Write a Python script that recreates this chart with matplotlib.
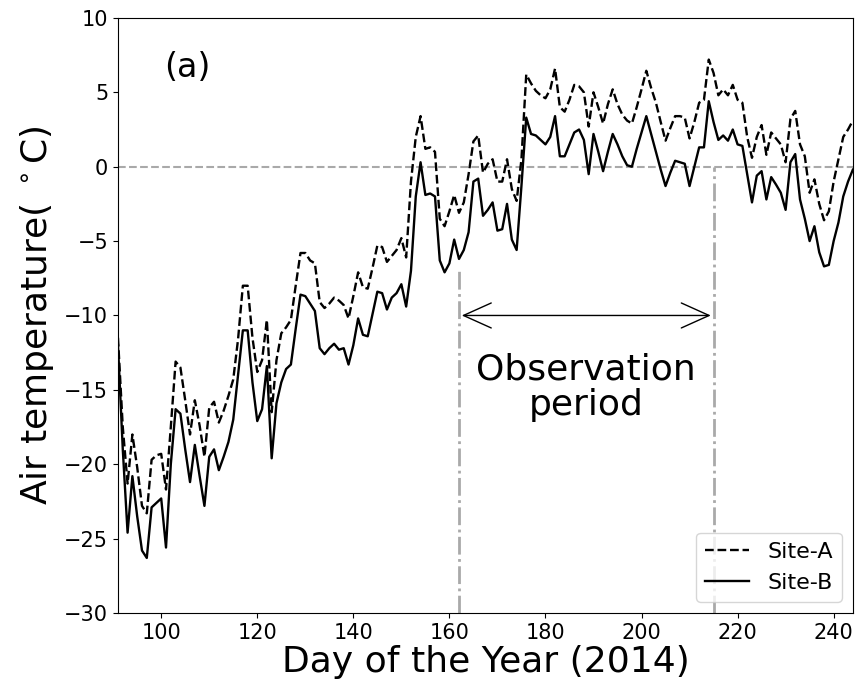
import matplotlib
matplotlib.use('Agg')
import matplotlib.pyplot as plt


# Day of year for every daily value (2014).
days = list(range(91, 245))

# Daily mean air temperature at Site-A (deg C), days 91..244.
site_a = [
    -11.5, -17.5, -21.3, -18.0, -20.2, -22.8, -23.3, -19.7, -19.4, -19.3,
    -21.7, -17.5, -13.1, -13.5, -15.7, -18.0, -15.7, -17.4, -19.5, -16.2,
    -15.8, -17.2, -16.4, -15.4, -14.3, -11.6, -8.0, -8.0, -11.5, -13.8,
    -13.0, -10.3, -16.5, -13.0, -11.2, -10.8, -10.3, -8.0, -5.8, -5.8,
    -6.3, -6.5, -9.1, -9.5, -9.2, -8.8, -9.0, -9.3, -10.2, -8.7,
    -7.1, -8.1, -8.2, -6.8, -5.3, -5.4, -6.4, -6.0, -5.6, -4.8,
    -6.1, -1.0, 2.0, 3.4, 1.2, 1.3, 1.0, -3.5, -4.0, -3.0,
    -1.9, -3.1, -2.4, -0.5, 1.7, 2.1, -0.4, 0.2, 0.5, -1.0,
    -1.0, 0.5, -1.5, -2.3, 0.5, 6.2, 5.6, 5.1, 4.8, 4.6,
    5.2, 6.6, 4.0, 3.7, 4.5, 5.5, 5.4, 5.0, 2.7, 5.0,
    4.0, 2.9, 4.2, 5.2, 4.2, 3.5, 3.1, 2.9, 4.0, 5.2,
    6.45, 5.3, 4.3, 3.0, 1.75, 2.6, 3.4, 3.4, 3.3, 1.9,
    3.0, 4.3, 4.5, 7.2, 6.3, 4.8, 5.2, 4.8, 5.5, 4.5,
    4.3, 2.0, 0.6, 2.0, 2.8, 0.8, 2.3, 1.9, 1.5, 0.3,
    3.2, 3.75, 1.5, 0.7, -1.75, -0.85, -2.5, -3.6, -3.0, -1.0,
    0.5, 2.0, 2.5, 3.1,
]

# Daily mean air temperature at Site-B (deg C), days 91..244.
site_b = [
    -12.0, -19.0, -24.6, -20.8, -23.5, -25.8, -26.3, -22.9, -22.6, -22.3,
    -25.6, -20.0, -16.3, -16.6, -19.0, -21.2, -18.7, -20.8, -22.8, -19.5,
    -19.0, -20.4, -19.5, -18.5, -17.0, -14.0, -11.0, -11.0, -14.5, -17.1,
    -16.3, -13.4, -19.6, -15.9, -14.5, -13.6, -13.3, -10.9, -8.6, -8.7,
    -9.2, -9.7, -12.2, -12.6, -12.2, -11.9, -12.3, -12.2, -13.3, -12.0,
    -10.2, -11.3, -11.4, -9.9, -8.4, -8.5, -9.6, -8.8, -8.5, -7.9,
    -9.4, -7.0, -2.0, 0.3, -1.9, -1.8, -2.0, -6.3, -7.1, -6.5,
    -4.9, -6.2, -5.6, -4.4, -1.0, -0.8, -3.3, -2.9, -2.4, -4.3,
    -4.2, -2.5, -4.9, -5.6, -1.3, 3.3, 2.2, 2.1, 1.8, 1.5,
    2.0, 3.4, 0.7, 0.7, 1.5, 2.3, 2.5, 1.8, -0.5, 2.2,
    1.0, -0.3, 1.0, 2.2, 1.5, 0.7, 0.1, 0.0, 1.2, 2.3,
    3.4, 2.2, 1.0, -0.2, -1.3, -0.4, 0.4, 0.3, 0.2, -1.3,
    0.0, 1.3, 1.3, 4.4, 3.0, 1.8, 2.1, 1.75, 2.5, 1.5,
    1.4, -0.5, -2.4, -0.6, -0.3, -2.2, -0.7, -1.2, -1.75, -2.9,
    0.3, 0.85, -2.2, -3.5, -5.0, -4.0, -5.75, -6.7, -6.6, -5.0,
    -3.75, -2.0, -1.0, -0.2,
]

# Observation period (start and end day) and top of the marker lines.
obs_start, obs_end = 162, 215
obs_start_top, obs_end_top = -7, 0

x_ticks = [100, 120, 140, 160, 180, 200, 220, 240]
y_ticks = [-30, -25, -20, -15, -10, -5, 0, 5, 10]


fig = plt.figure(figsize=(8.58, 6.9), dpi=100)
ax = fig.add_axes([0.1375, 0.1116, 0.8565, 0.8624])

# Freezing line and the observation period markers.
ax.axhline(0, color='darkgray', linestyle='--', linewidth=1.5, zorder=1)
ax.vlines(obs_start, -30, obs_start_top, colors='darkgray', linestyles='-.', linewidth=2, zorder=1)
ax.vlines(obs_end, -30, obs_end_top, colors='darkgray', linestyles='-.', linewidth=2, zorder=1)

ax.plot(days, site_a, 'k--', linewidth=1.7, label='Site-A')
ax.plot(days, site_b, 'k-', linewidth=1.7, label='Site-B')

ax.annotate('', xy=(obs_end, -10), xytext=(obs_start, -10),
            arrowprops=dict(arrowstyle='<->,head_length=1.0,head_width=0.45',
                            color='black', linewidth=1.0, mutation_scale=20))
ax.text((obs_start + obs_end) / 2, -14.8, 'Observation\nperiod', fontsize=26,
        ha='center', va='center', linespacing=1.05)
ax.text(105.5, 6.7, '(a)', fontsize=24, ha='center', va='center')

ax.set_xlim(91, 244)
ax.set_ylim(-30, 10)
ax.set_xticks(x_ticks)
ax.set_yticks(y_ticks)
ax.tick_params(labelsize=15)
ax.set_xlabel('Day of the Year (2014)', fontsize=26, labelpad=2)
ax.set_ylabel('Air temperature( $^\\circ$C)', fontsize=26, labelpad=6)
ax.legend(loc='lower right', fontsize=16)

fig.savefig('out.png', dpi=100)
